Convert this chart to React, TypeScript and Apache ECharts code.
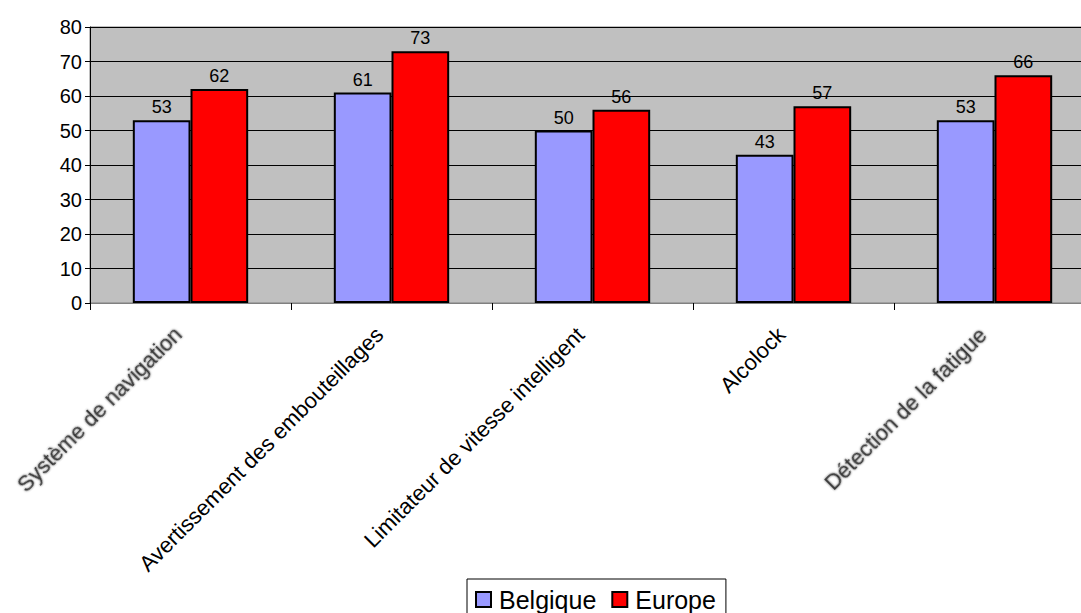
import React, { useEffect, useRef } from "react";
import * as echarts from "echarts";

const categories = [
  "Système de navigation",
  "Avertissement des embouteillages",
  "Limitateur de vitesse intelligent",
  "Alcolock",
  "Détection de la fatigue",
];
const belgique = [53, 61, 50, 43, 53];
const europe = [62, 73, 56, 57, 66];
const blurredLabels = [0, 4];

export default function App() {
  const ref = useRef<HTMLDivElement>(null);
  useEffect(() => {
    if (!ref.current) return;
    const chart = echarts.init(ref.current, undefined, { renderer: "svg" });
    const font = "'Liberation Sans', Arial, sans-serif";
    chart.setOption({
      animation: false,
      backgroundColor: "#ffffff",
      textStyle: { fontFamily: font },
      grid: {
        left: 90,
        right: 5,
        top: 27,
        bottom: 310,
        show: true,
        backgroundColor: "#C0C0C0",
        borderColor: "#808080",
        borderWidth: 1,
      },
      legend: {
        data: ["Belgique", "Europe"],
        left: 467,
        top: 579,
        orient: "horizontal",
        borderColor: "#000",
        borderWidth: 1,
        padding: [8, 10, 10, 8],
        itemGap: 15,
        itemWidth: 15,
        itemHeight: 15,
        icon: "rect",
        textStyle: { fontSize: 25, color: "#000", fontFamily: font, padding: [0, 0, 0, 3] },
      },
      xAxis: {
        type: "category",
        data: categories.map((c, i) => ({
          value: c,
          textStyle: blurredLabels.includes(i)
            ? { color: "#3a3a3a", textShadowColor: "rgba(0,0,0,0.6)", textShadowBlur: 2 }
            : { color: "#000" },
        })),
        axisLine: { show: true, lineStyle: { color: "#808080", width: 1 } },
        axisTick: { show: true, length: 7, lineStyle: { color: "#000" } },
        axisLabel: {
          rotate: 45,
          fontSize: 22,
          color: "#000",
          fontFamily: font,
          margin: 16,
          interval: 0,
          padding: [0, 17, 0, 0],
        },
      },
      yAxis: {
        type: "value",
        min: 0,
        max: 80,
        interval: 10,
        axisLine: { show: true, lineStyle: { color: "#000", width: 1 } },
        axisTick: { show: true, length: 5, lineStyle: { color: "#000" } },
        axisLabel: { fontSize: 20, color: "#000", fontFamily: font, margin: 8 },
        splitLine: { show: true, lineStyle: { color: "#000", width: 1 } },
      },
      series: [
        {
          name: "Belgique",
          type: "bar",
          data: belgique,
          barGap: "0%",
          barCategoryGap: "42.6%",
          itemStyle: { color: "#9999FF", borderColor: "#000", borderWidth: 2 },
          label: { show: true, position: "top", fontSize: 18, color: "#000", distance: 4, fontFamily: font },
        },
        {
          name: "Europe",
          type: "bar",
          data: europe,
          barGap: "0%",
          barCategoryGap: "42.6%",
          itemStyle: { color: "#FF0000", borderColor: "#000", borderWidth: 2 },
          label: { show: true, position: "top", fontSize: 18, color: "#000", distance: 4, fontFamily: font },
        },
      ],
    });
    return () => chart.dispose();
  }, []);
  return (
    <div
      style={{ position: "absolute", left: 0, top: 0, width: 1081, height: 613, overflow: "hidden" }}
    >
      <div ref={ref} style={{ width: 1100, height: 613 }} />
    </div>
  );
}
